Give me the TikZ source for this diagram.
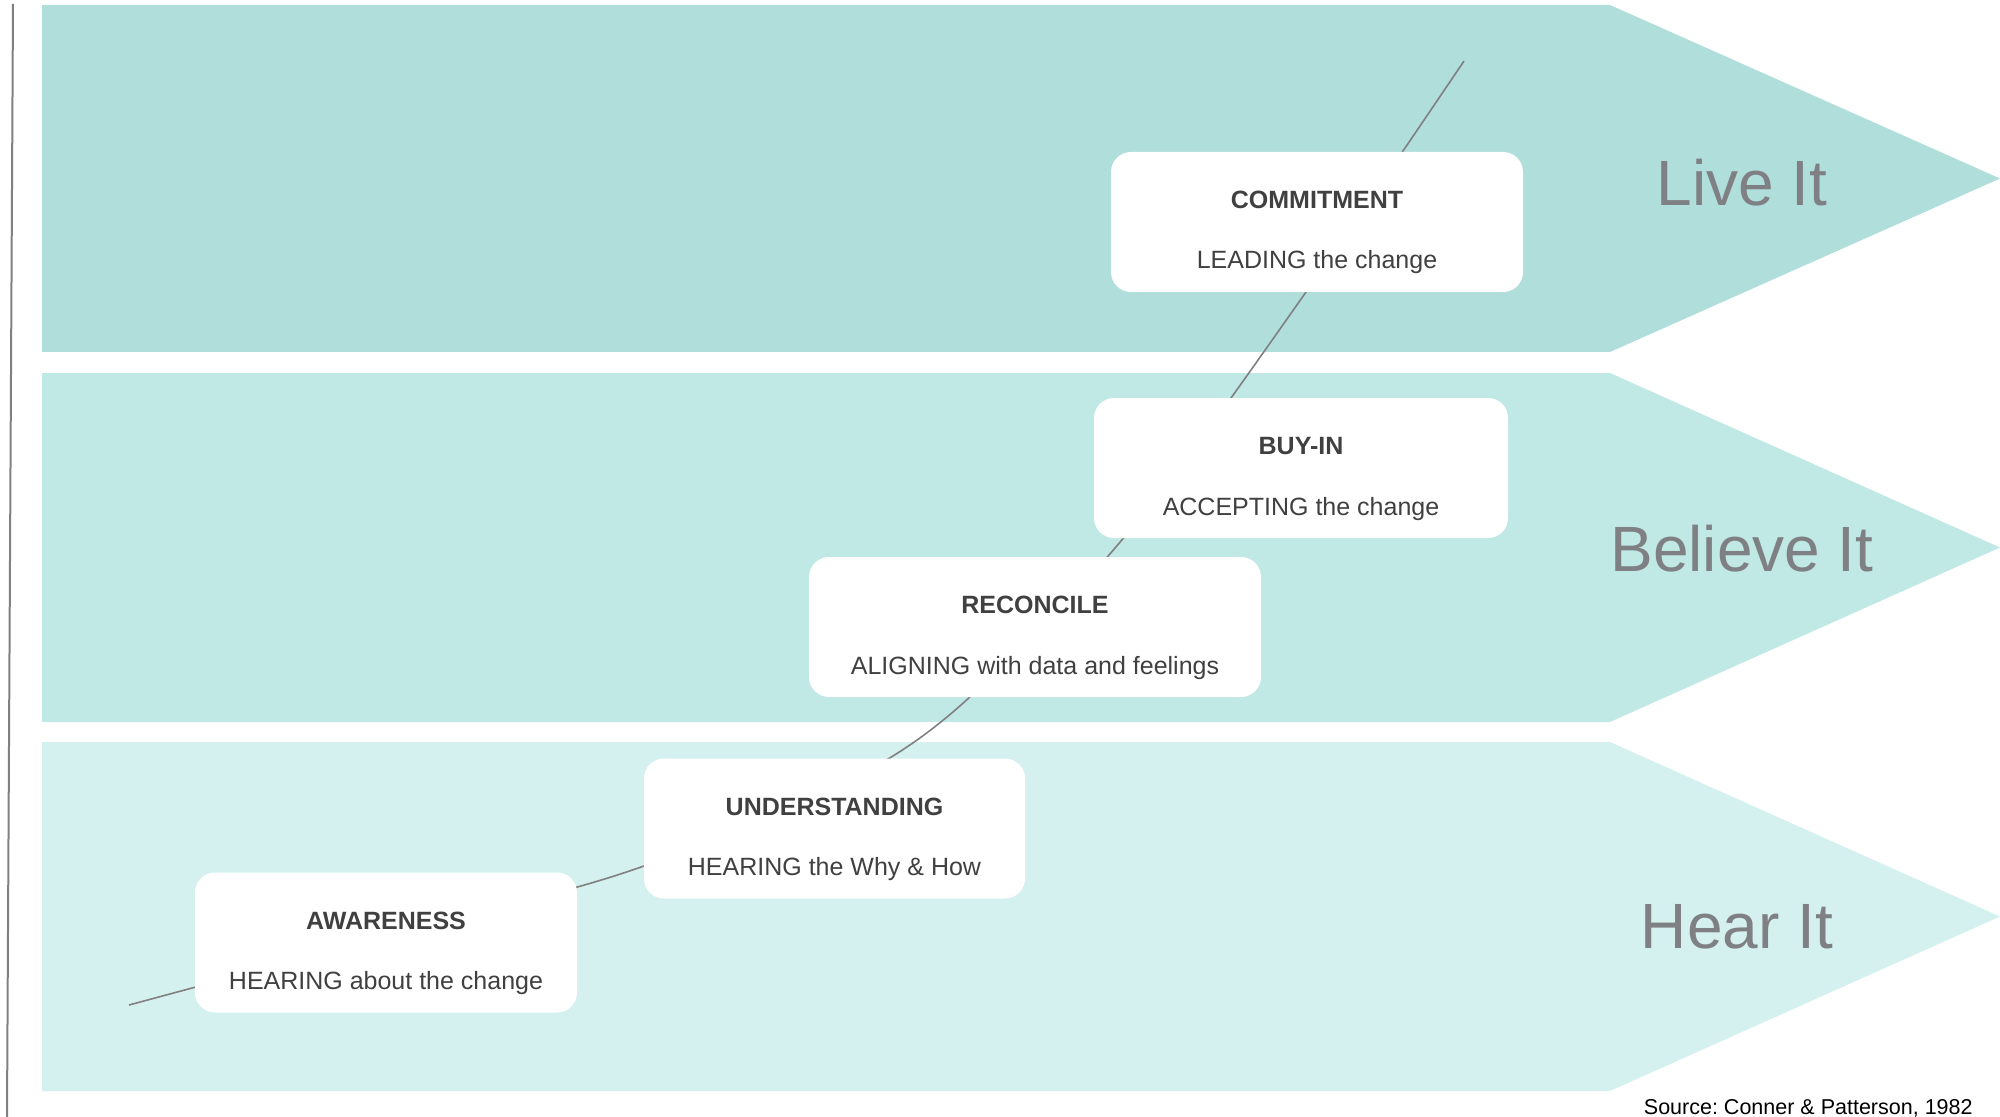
\documentclass[tikz,border=0pt]{standalone}
\usepackage{fontspec}
\setmainfont{Liberation Sans}
\frenchspacing
\definecolor{bandA}{RGB}{176,222,219}
\definecolor{bandB}{RGB}{192,232,228}
\definecolor{bandC}{RGB}{212,241,239}
\definecolor{boxtext}{RGB}{64,64,64}
\definecolor{labgray}{RGB}{127,128,132}
\definecolor{curvegray}{RGB}{128,128,128}
\begin{document}
\begin{tikzpicture}[x=0.5pt,y=-0.5pt,
  stagebox/.style={fill=white, draw=none, rounded corners=10pt, inner sep=0pt, minimum height=70pt},
  ttl/.style={font=\fontsize{12.5pt}{15pt}\selectfont\bfseries, text=boxtext, inner sep=0pt},
  sub/.style={font=\fontsize{12.5pt}{15pt}\selectfont, text=boxtext, inner sep=0pt, anchor=base},
  biglab/.style={font=\fontsize{32pt}{38pt}\selectfont, text=labgray, inner sep=0pt, anchor=base},
  curveline/.style={draw=curvegray, line width=0.8pt},
]
\useasboundingbox (0,0) rectangle (2000,1117);
% bands
\fill[bandA] (42,5) -- (1610,5) -- (2000,178.5) -- (1610,352) -- (42,352) -- cycle;
\fill[bandB] (42,373) -- (1610,373) -- (2000,547.5) -- (1610,722) -- (42,722) -- cycle;
\fill[bandC] (42,742) -- (1610,742) -- (2000,916.5) -- (1610,1091) -- (42,1091) -- cycle;
% left rule
\coordinate (lt) at (13,4);
\coordinate (lb) at (7,1117);
\draw[draw=curvegray, line width=1pt] (lt) -- (lb);
% curve
\coordinate (cs) at (129,1005);
\coordinate (ce) at (1464,61);
\draw[curveline] plot[smooth, tension=0.6] coordinates {(cs) (400,932) (644,866) (888,759) (1040,628) (1160,493) (1306,292) (ce)};
% boxes
\node[stagebox, minimum width=206pt] (c1) at (1317,222) {};
\node[stagebox, minimum width=207pt] (c2) at (1301,468) {};
\node[stagebox, minimum width=226pt] (c3) at (1035,627) {};
\node[stagebox, minimum width=190.5pt] (c4) at (834.5,828.5) {};
\node[stagebox, minimum width=191pt] (c5) at (386,942.5) {};
\foreach \n/\t/\s in {c1/COMMITMENT/LEADING the change, c2/BUY-IN/ACCEPTING the change, c3/RECONCILE/ALIGNING with data and feelings, c4/UNDERSTANDING/HEARING the Why \& How, c5/AWARENESS/HEARING about the change}{
  \node[ttl] (\n t) at ([yshift=-24.2pt]\n.north) {\t};
  \node[sub] (\n s) at ([yshift=-58.7pt]\n.north) {\s};
}
% stage labels
\node[biglab] (live) at (1742,206) {Live It};
\node[biglab] (believe) at (1742,571) {Believe It};
\node[biglab] (hear) at (1737,948) {Hear It};
% source
\node[font=\fontsize{10.75pt}{13pt}\selectfont, inner sep=0pt, anchor=base east] (src) at (1973,1114) {Source: Conner \& Patterson, 1982};
\end{tikzpicture}
\end{document}
